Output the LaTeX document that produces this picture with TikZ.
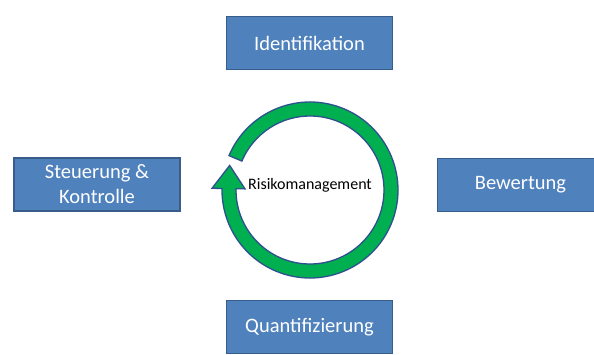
\documentclass[tikz,border=0pt]{standalone}
\usepackage{fontspec}
\setmainfont{Carlito}
\definecolor{boxblue}{HTML}{4F81BD}
\definecolor{boxedge}{HTML}{385D8A}
\definecolor{ringgreen}{HTML}{00B050}
\definecolor{ringedge}{HTML}{2F4F8F}
\begin{document}
\begin{tikzpicture}[x=1pt,y=1pt,
	stepbox/.style={draw=boxedge,fill=boxblue,line width=1.8pt,minimum width=166pt,minimum height=53pt,
		text=white,align=center,inner sep=0pt,font=\fontsize{20.5}{25}\selectfont},
	ring/.style={draw=ringedge,fill=ringgreen,line width=1.3pt,line join=miter}]
	\useasboundingbox (0,0) rectangle (594,354);
	\clip (0,0) rectangle (594,354);
	\fill[white] (0,0) rectangle (594,354);
	% the four steps
	\node[stepbox] (ident) at (309.5,311) {Identifikation};
	\node[stepbox] (bewert) at (520.5,169) {Bewertung};
	\node[stepbox] (quant) at (309.5,27) {Quantifizierung};
	\node[stepbox] (steuer) at (97,169.5) {Steuerung \&\\Kontrolle};
	% cycle arrow
	\coordinate (c) at (310,164);
	\draw[ring] ([shift={(157:88pt)}]c) arc[start angle=157,end angle=-181,radius=88pt]
		-- ([shift={(-181:98pt)}]c) -- ([shift={(-197:84pt)}]c)
		-- ([shift={(-181:65pt)}]c) -- ([shift={(-181:74pt)}]c)
		arc[start angle=-181,end angle=157,radius=74pt] -- cycle;
	\node[font=\fontsize{16}{19}\selectfont] (risk) at (310,169) {Risikomanagement};
\end{tikzpicture}
\end{document}
